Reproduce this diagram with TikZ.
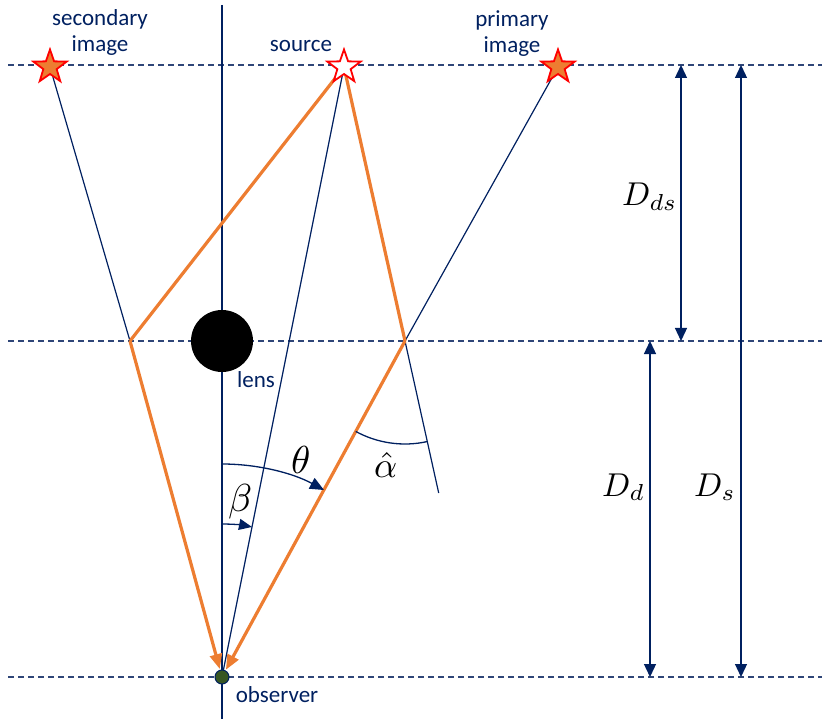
\documentclass[tikz,border=0pt]{standalone}
\usepackage{fontspec}
\setmainfont{Carlito}
\usetikzlibrary{arrows.meta,shapes.geometric}
\definecolor{navy}{RGB}{0,32,96}
\definecolor{dashnavy}{RGB}{47,70,120}
\definecolor{rayorange}{RGB}{237,125,49}
\definecolor{obsgreen}{RGB}{55,86,35}
\tikzset{
  axisline/.style={draw=navy,line width=1.3pt},
  thinray/.style={draw=navy,line width=1.2pt},
  planeline/.style={draw=dashnavy,line width=1.3pt,dash pattern=on 6pt off 4pt},
  lightray/.style={draw=rayorange,line width=3.2pt},
  raytip/.style={-{Triangle[length=15pt,width=12pt,fill=rayorange,color=rayorange]}},
  dimline/.style={draw=navy,line width=1.3pt,{Triangle[length=13pt,width=12pt]}-{Triangle[length=13pt,width=12pt]}},
  startip/.style={star,star points=5,star point ratio=2.5,minimum size=35pt,inner sep=0pt,draw=red,line width=1.8pt},
  txt/.style={text=navy,font=\fontsize{23}{26}\selectfont,inner sep=0pt,anchor=base},
  mathlbl/.style={inner sep=0pt,anchor=base west},
  anglearc/.style={draw=navy,line width=1.3pt},
}
\begin{document}
\begin{tikzpicture}[x=1pt,y=1pt]
\useasboundingbox (0,0) rectangle (822,-719);
% coordinates
\coordinate (O) at (222,-677);
\coordinate (S) at (344,-67);
\coordinate (SI) at (50,-67);
\coordinate (PI) at (558,-67);
\coordinate (A) at (130,-341);
\coordinate (B) at (405,-341);
\coordinate (E) at (438.7,-493);
\coordinate (axtop) at (222,-5);
\coordinate (axbot) at (222,-719);
% dashed planes
\coordinate (p1l) at (8,-65);  \coordinate (p1r) at (822,-65);
\coordinate (p2l) at (8,-341); \coordinate (p2r) at (822,-341);
\coordinate (p3l) at (8,-677); \coordinate (p3r) at (822,-677);
\draw[planeline] (p1l) -- (p1r);
\draw[planeline] (p2l) -- (p2r);
\draw[planeline] (p3l) -- (p3r);
% axis
\draw[axisline] (axtop) -- (axbot);
% observer node (drawn later on top)
\node[circle,minimum size=14pt,inner sep=0pt] (obs) at (O) {};
% thin rays
\draw[thinray] (A) -- (SI);
\draw[thinray] (B) -- (PI);
\draw[thinray] (S) -- (O);
\draw[thinray] (B) -- (E);
% orange rays
\draw[lightray] (S) -- (A);
\draw[lightray,raytip,shorten >=1pt] (A) -- (obs);
\draw[lightray] (S) -- (B);
\draw[lightray,raytip,shorten >=1pt] (B) -- (obs);
% lens
\node[circle,fill=black,minimum size=62pt,inner sep=0pt] (lens) at (222,-341) {};
\node[txt] (lenslbl) at (256,-387) {lens};
% observer
\node[circle,fill=obsgreen,draw=navy,line width=1pt,minimum size=14pt,inner sep=0pt] (obsdot) at (O) {};
\node[txt] (obslbl) at (277,-702) {observer};
% stars
\node[startip,fill=rayorange] (sistar) at (SI) {};
\node[startip,fill=white] (sstar) at (S) {};
\node[startip,fill=rayorange] (pistar) at (PI) {};
\node[txt] (silbl1) at (100,-26) {secondary};
\node[txt] (silbl2) at (100,-52) {image};
\node[txt] (slbl) at (301,-52) {source};
\node[txt] (pilbl1) at (512,-27) {primary};
\node[txt] (pilbl2) at (512,-53) {image};
% angle arcs
\draw[anglearc,-{Triangle[length=14pt,width=12pt]}] (O) ++(0,213) arc[start angle=90,end angle=61.4,radius=213];
\draw[anglearc,-{Triangle[length=13pt,width=11pt]}] (O) ++(0,153) arc[start angle=90,end angle=78.7,radius=153];
\draw[anglearc] (B) ++(241.4:103) arc[start angle=241.4,end angle=282.5,radius=103];
\node[mathlbl] (th) at (291,-473) {\scalebox{3.9}{$\theta$}};
\node[mathlbl] (be) at (228,-511) {\scalebox{3.9}{$\beta$}};
\node[mathlbl] (al) at (374,-477) {\scalebox{3.6}{$\hat\alpha$}};
% dimension arrows
\coordinate (dds1) at (681,-65); \coordinate (dds2) at (681,-341);
\coordinate (ds1) at (741,-65); \coordinate (ds2) at (741,-677);
\coordinate (dd1) at (650,-341); \coordinate (dd2) at (650,-677);
\draw[dimline] (dds1) -- (dds2);
\draw[dimline] (ds1) -- (ds2);
\draw[dimline] (dd1) -- (dd2);
\node[mathlbl] (ldds) at (622,-206) {\scalebox{3.3}{$D_{ds}$}};
\node[mathlbl] (ldd) at (602,-496) {\scalebox{3.3}{$D_d$}};
\node[mathlbl] (lds) at (694,-496) {\scalebox{3.3}{$D_s$}};
\end{tikzpicture}
\end{document}
